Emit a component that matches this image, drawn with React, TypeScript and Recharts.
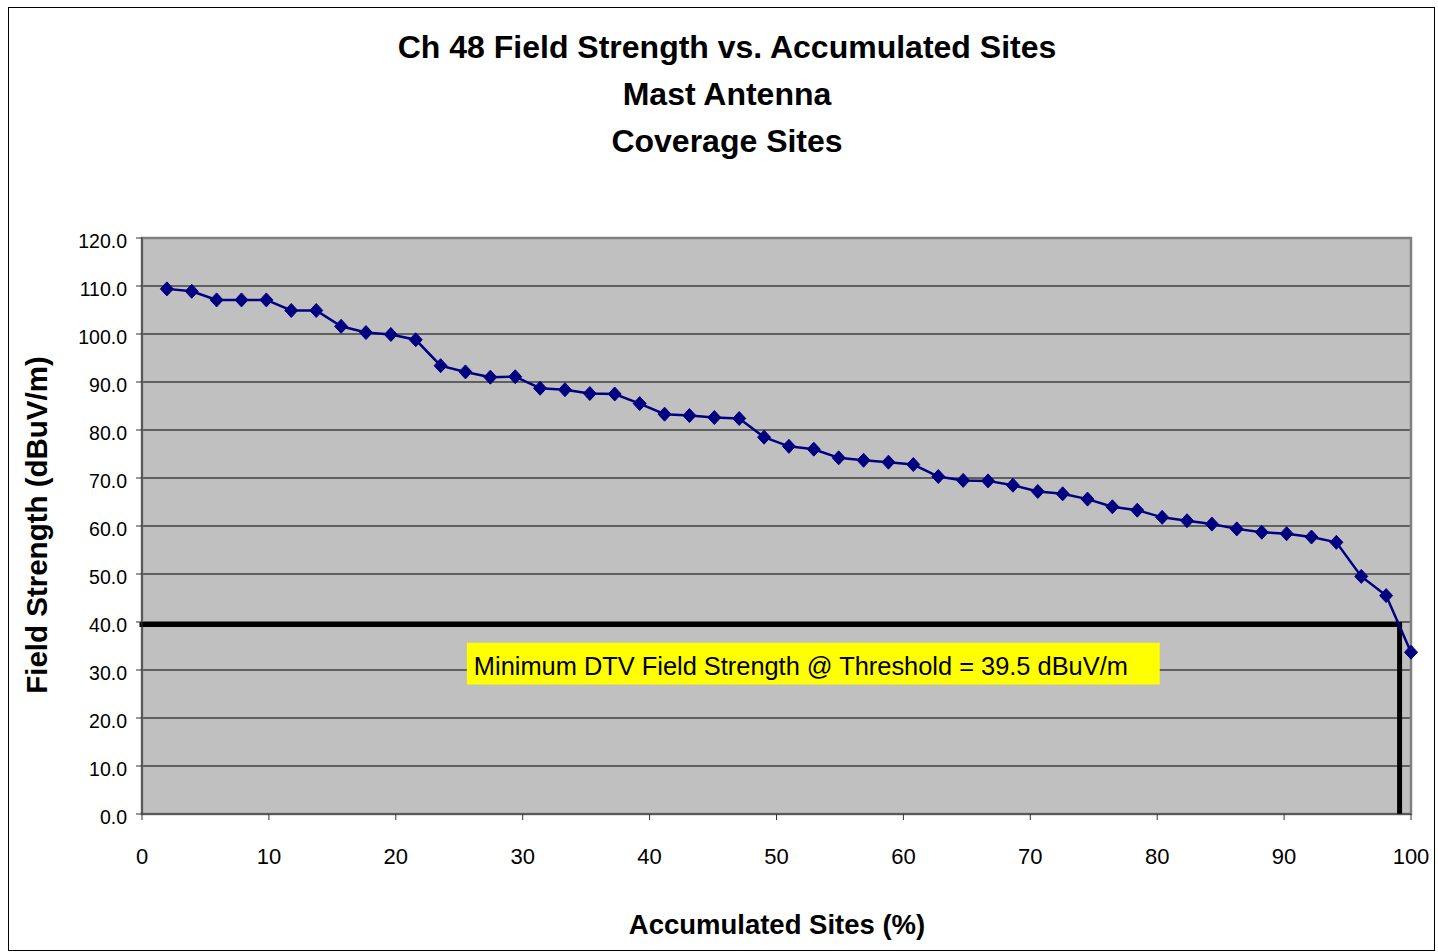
import React from "react"
import {
  LineChart,
  Line,
  XAxis,
  YAxis,
  CartesianGrid,
  ReferenceLine,
  ReferenceArea,
} from "recharts"

const FONT = "'Liberation Sans', Arial, sans-serif"

const TITLE_LINES = [
  "Ch 48 Field Strength vs. Accumulated Sites",
  "Mast Antenna",
  "Coverage Sites",
]

// accumulated sites (%) for each measured site
const SITE_PCT = [
  1.96, 3.92, 5.88, 7.84, 9.8, 11.76, 13.73, 15.69, 17.65, 19.61, 21.57, 23.53,
  25.49, 27.45, 29.41, 31.37, 33.33, 35.29, 37.25, 39.22, 41.18, 43.14, 45.1,
  47.06, 49.02, 50.98, 52.94, 54.9, 56.86, 58.82, 60.78, 62.75, 64.71, 66.67,
  68.63, 70.59, 72.55, 74.51, 76.47, 78.43, 80.39, 82.35, 84.31, 86.27, 88.24,
  90.2, 92.16, 94.12, 96.08, 98.04, 100,
]

// field strength (dBuV/m)
const FIELD = [
  109.4, 108.9, 107.1, 107.1, 107.1, 104.9, 104.9, 101.6, 100.3, 99.9, 98.8, 93.4,
  92.1, 91.0, 91.1, 88.7, 88.4, 87.6, 87.5, 85.5, 83.3, 83.0, 82.6, 82.4, 78.5,
  76.6, 76.0, 74.2, 73.7, 73.3, 72.8, 70.3, 69.5, 69.4, 68.5, 67.2, 66.7, 65.6,
  64.0, 63.3, 61.8, 61.1, 60.4, 59.4, 58.7, 58.4, 57.7, 56.6, 49.5, 45.5, 33.7,
]

const X_TICKS = [0, 10, 20, 30, 40, 50, 60, 70, 80, 90, 100]
const Y_TICKS = [0, 10, 20, 30, 40, 50, 60, 70, 80, 90, 100, 110, 120]

const THRESHOLD = 39.5
const THRESHOLD_PCT = 99.1
const NOTE = "Minimum DTV Field Strength @ Threshold = 39.5 dBuV/m"
// annotation box extent in data units
const NOTE_X = [25.6, 80.2]
const NOTE_Y = [27.0, 35.7]

const data = SITE_PCT.map((x, i) => ({ x, y: FIELD[i] }))

function Diamond(props: any) {
  const { cx, cy, index } = props
  if (cx == null || cy == null) return <g key={`d-${index}`} />
  const w = 6.5
  const h = 7
  return (
    <polygon
      key={`d-${index}`}
      points={`${cx},${cy - h} ${cx + w},${cy} ${cx},${cy + h} ${cx - w},${cy}`}
      fill="#000080"
      stroke="#000080"
      strokeWidth={1}
    />
  )
}

export default function App() {
  return (
    <>
      <style>{`html, body { margin: 0; padding: 0; overflow: hidden; }`}</style>
      <div
        style={{
          position: "relative",
          width: 1427,
          height: 944,
          margin: "7px 0 0 8px",
          boxSizing: "border-box",
          border: "1px solid #000",
          background: "#fff",
          fontFamily: FONT,
        }}
      >
        <div
          style={{
            position: "absolute",
            left: 318,
            top: 16,
            width: 800,
            textAlign: "center",
            fontSize: 32,
            fontWeight: "bold",
            lineHeight: "47px",
            color: "#000",
          }}
        >
          {TITLE_LINES.map((t) => (
            <div key={t}>{t}</div>
          ))}
        </div>

        <LineChart
          width={1425}
          height={942}
          data={data}
          margin={{ top: 230, right: 23, bottom: 76, left: 0 }}
        >
          <CartesianGrid vertical={false} stroke="#000" fill="#C0C0C0" fillOpacity={1} />
          <ReferenceArea
            x1={0}
            x2={100}
            y1={0}
            y2={120}
            fill="none"
            stroke="#808080"
            strokeWidth={2.5}
          />
          <XAxis
            type="number"
            dataKey="x"
            domain={[0, 100]}
            ticks={X_TICKS}
            height={60}
            tickSize={6}
            tickMargin={28}
            stroke="#333"
            tick={{ fontSize: 22, fill: "#000", fontFamily: FONT }}
          />
          <YAxis
            type="number"
            domain={[0, 120]}
            ticks={Y_TICKS}
            width={133}
            tickSize={6}
            tickMargin={9}
            stroke="#333"
            tickFormatter={(v: number) => v.toFixed(1)}
            tick={{ fontSize: 19.5, fill: "#000", fontFamily: FONT, dy: 3 }}
          />
          <ReferenceArea
            x1={NOTE_X[0]}
            x2={NOTE_X[1]}
            y1={NOTE_Y[0]}
            y2={NOTE_Y[1]}
            fill="#FFFF00"
            fillOpacity={1}
            stroke="none"
            label={{
              value: NOTE,
              position: "insideLeft",
              offset: 7,
              fill: "#000",
              fontSize: 25.4,
              fontFamily: FONT,
              dy: 2,
            }}
          />
          <ReferenceLine
            segment={[
              { x: 0, y: THRESHOLD },
              { x: THRESHOLD_PCT, y: THRESHOLD },
            ]}
            stroke="#000"
            strokeWidth={5}
            strokeLinecap="square"
          />
          <ReferenceLine
            segment={[
              { x: THRESHOLD_PCT, y: THRESHOLD },
              { x: THRESHOLD_PCT, y: 0 },
            ]}
            stroke="#000"
            strokeWidth={5}
          />
          <Line
            type="linear"
            dataKey="y"
            stroke="#000080"
            strokeWidth={2.5}
            dot={Diamond}
            activeDot={false}
            isAnimationActive={false}
          />
        </LineChart>

        <div
          style={{
            position: "absolute",
            left: -172,
            top: 502,
            width: 400,
            textAlign: "center",
            fontSize: 29.5,
            fontWeight: "bold",
            lineHeight: "30px",
            transform: "rotate(-90deg)",
            whiteSpace: "nowrap",
          }}
        >
          Field Strength (dBuV/m)
        </div>
        <div
          style={{
            position: "absolute",
            left: 468,
            top: 902,
            width: 600,
            textAlign: "center",
            fontSize: 27.5,
            fontWeight: "bold",
            lineHeight: "30px",
            whiteSpace: "nowrap",
          }}
        >
          Accumulated Sites (%)
        </div>
      </div>
    </>
  )
}
